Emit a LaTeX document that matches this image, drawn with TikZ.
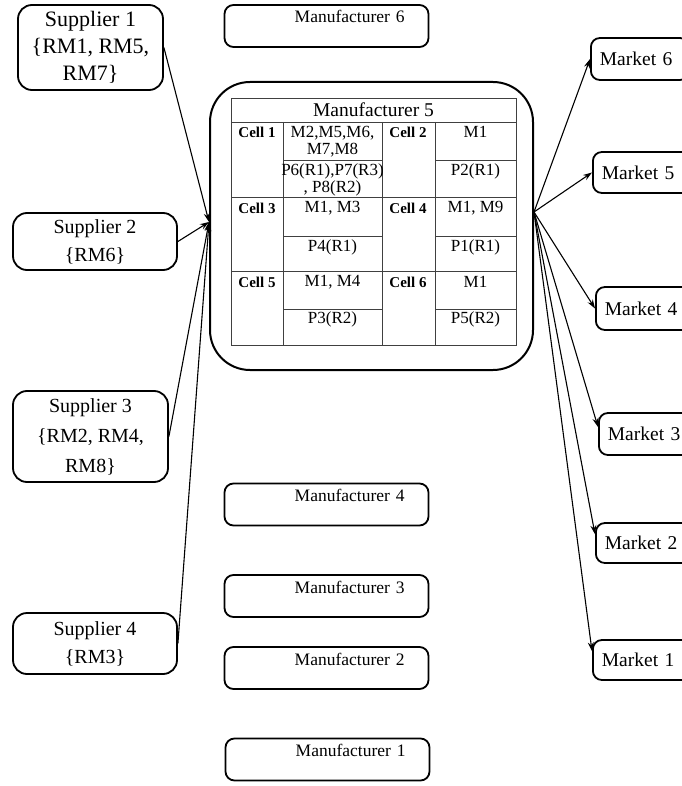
\documentclass[tikz,border=0pt]{standalone}
\usepackage{fontspec}
\setmainfont{Liberation Serif}
\usetikzlibrary{calc}
\usetikzlibrary{arrows.meta}

\tikzset{
    rbox/.style={draw, line width=1.8pt, rounded corners=9pt, align=center},
    sup/.style={rbox, rounded corners=14pt, minimum width=164pt, font=\fontsize{20}{28}\selectfont},
    mfr/.style={rbox, text width=156pt, align=right, inner xsep=24pt, inner ysep=3pt,
        text height=15pt, text depth=21pt, font=\fontsize{17.5}{20}\selectfont},
    mkt/.style={rbox, anchor=west, text width=80pt, align=left, inner xsep=9pt,
        minimum height=42pt, font=\fontsize{19.5}{22}\selectfont},
    flow/.style={line width=1.1pt, -{Stealth[length=9pt,width=6pt,inset=3pt]}},
    tabline/.style={line width=0.6pt, draw=black!75},
    celltext/.style={inner sep=0pt, align=center, font=\fontsize{17}{17}\selectfont},
    celllab/.style={inner sep=0pt, font=\bfseries\fontsize{15}{17}\selectfont}
}

\begin{document}
\begin{tikzpicture}[x=1pt,y=-1pt]
                    \useasboundingbox (0,0) rectangle (681,786);

                    \node[sup, minimum width=145pt, minimum height=85pt, font=\fontsize{22}{27}\selectfont] (s1) at (90.5,47.5) {Supplier 1\\\{RM1, RM5,\\RM7\}};
                    \node[sup, minimum height=57pt] (s2) at (95,241.5) {Supplier 2\\\{RM6\}};
                    \node[sup, minimum width=155pt, minimum height=91pt, font=\fontsize{20}{30}\selectfont] (s3) at (90.5,436.5) {Supplier 3\\\{RM2, RM4,\\RM8\}};
                    \node[sup, minimum height=61pt] (s4) at (95,643.5) {Supplier 4\\\{RM3\}};

                    \node[mfr] (m6) at (326.5,26) {Manufacturer 6};
                    \node[mfr] (m4) at (326.5,504.5) {Manufacturer 4};
                    \node[mfr] (m3) at (326.5,596) {Manufacturer 3};
                    \node[mfr] (m2) at (326.5,668) {Manufacturer 2};
                    \node[mfr] (m1) at (327.5,759.5) {Manufacturer 1};

                    \node[rbox, line width=2pt, rounded corners=40pt, minimum width=323pt, minimum height=288pt] (m5) at (371.5,226) {};
                    \draw[tabline] (231,98) rectangle (516,122);
                    \draw[tabline] (231,122) rectangle (516,345);
                    \draw[tabline] (231,197) -- (516,197) (231,271) -- (516,271);
                    \foreach \x in {283,382,435}
                        \draw[tabline] (\x,122) -- (\x,345);
                    \foreach \y in {160,236,309}
                        \draw[tabline] (283,\y) -- (382,\y) (435,\y) -- (516,\y);
                    \node[inner sep=0pt, font=\fontsize{19.5}{22}\selectfont] (hd) at (373.5,110) {Manufacturer 5};

                    \node[celllab] (c1) at (257,132) {Cell 1};
                    \node[celllab] (c2) at (408,132) {Cell 2};
                    \node[celllab] (c3) at (257,208) {Cell 3};
                    \node[celllab] (c4) at (408,208) {Cell 4};
                    \node[celllab] (c5) at (257,282) {Cell 5};
                    \node[celllab] (c6) at (408,282) {Cell 6};

                    \node[celltext] (c1m) at (332.5,141.5) {M2,M5,M6,\\M7,M8};
                    \node[celltext] (c1p) at (332.5,179.5) {P6(R1),P7(R3)\\, P8(R2)};
                    \node[celltext] (c2m) at (475.5,132) {M1};
                    \node[celltext] (c2p) at (475.5,171) {P2(R1)};
                    \node[celltext] (c3m) at (332.5,208) {M1, M3};
                    \node[celltext] (c3p) at (332.5,247) {P4(R1)};
                    \node[celltext] (c4m) at (475.5,208) {M1, M9};
                    \node[celltext] (c4p) at (475.5,247) {P1(R1)};
                    \node[celltext] (c5m) at (332.5,282) {M1, M4};
                    \node[celltext] (c5p) at (332.5,319) {P3(R2)};
                    \node[celltext] (c6m) at (475.5,282) {M1};
                    \node[celltext] (c6p) at (475.5,319) {P5(R2)};

                    \node[mkt] (mk6) at (590,59) {Market 6};
                    \node[mkt, minimum height=41pt] (mk5) at (592,172.5) {Market 5};
                    \node[mkt, minimum height=43pt] (mk4) at (595,308.5) {Market 4};
                    \node[mkt] (mk3) at (598,434) {Market 3};
                    \node[mkt, minimum height=40pt] (mk2) at (595,543) {Market 2};
                    \node[mkt, minimum height=40pt] (mk1) at (592,660) {Market 1};

                    \coordinate (m5in) at ($(m5.west)+(0,-4)$);
                    \coordinate (m5out) at ($(m5.east)+(0,-14)$);
                    \foreach \s in {s1,s2,s3,s4}
                        \draw[flow] (\s.east) -- (m5in);
                    \foreach \m/\a in {mk6/west,mk5/west,mk4/west,mk3/172,mk2/170,mk1/170}
                        \draw[flow] (m5out) -- (\m.\a);
                \end{tikzpicture}
\end{document}
